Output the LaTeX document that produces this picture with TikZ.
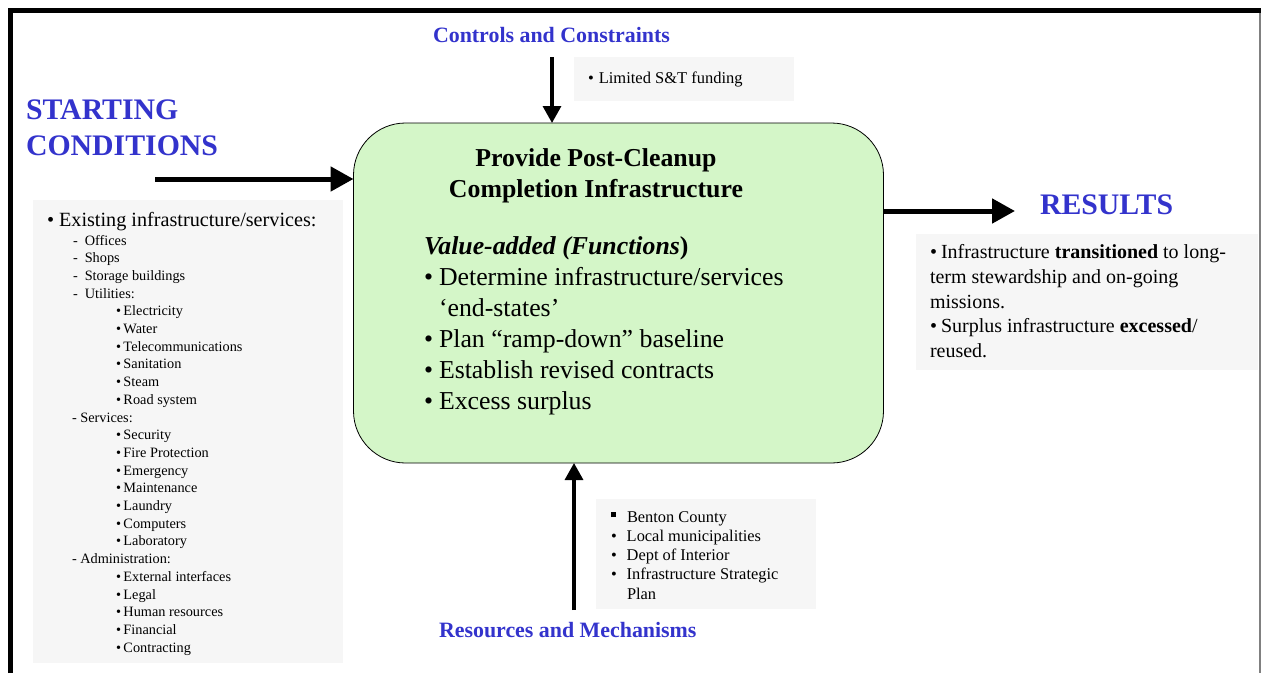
\documentclass[tikz,border=0pt]{standalone}
\usepackage{fontspec}
\setmainfont{Liberation Serif}
\usetikzlibrary{arrows.meta}
\definecolor{headblue}{HTML}{3333CC}
\definecolor{panelgray}{HTML}{F6F6F6}
\definecolor{funcgreen}{HTML}{D4F6C8}
\newcommand\pxsize[1]{\fontsize{#1}{#1}\selectfont}
\begin{document}
\begin{tikzpicture}[x=1pt,y=-1pt,
  every node/.style={inner sep=0pt, outer sep=0pt},
  txt/.style={anchor=base west},
  bighead/.style={anchor=base west, text=headblue, font=\pxsize{29.8}\bfseries},
  subhead/.style={anchor=base west, text=headblue, font=\pxsize{21.9}\bfseries},
  panel/.style={fill=panelgray, draw=none, anchor=north west},
  thickarrow/.style={line width=5pt, -{Triangle[length=23pt,width=24pt]}},
  thinarrow/.style={line width=3.3pt, -{Triangle[length=17pt,width=18pt]}},
  mainfont/.style={font=\pxsize{25.8}},
  mainbold/.style={font=\pxsize{25.8}\bfseries},
]
\useasboundingbox (0,0) rectangle (1261,673);

% page frame
\draw[line width=5pt] (10,673) -- (10,10.5) -- (1261,10.5);
\draw[gray, line width=1.5pt] (1259.8,13) -- (1259.8,673);

% shaded panels
\node[panel, minimum width=310pt, minimum height=463pt] (startpanel) at (33,200) {};
\node[panel, minimum width=220pt, minimum height=44pt] (ctlpanel) at (574,57) {};
\node[panel, minimum width=342pt, minimum height=136pt] (respanel) at (916,234) {};
\node[panel, minimum width=220pt, minimum height=110pt] (mechpanel) at (596,499) {};

% central function box
\node[draw, fill=funcgreen, rounded corners=52pt, line width=0.8pt,
      minimum width=530pt, minimum height=340pt] (main) at (618.5,293) {};

% headings
\node[bighead] (sc1) at (26,119) {STARTING};
\node[bighead] (sc2) at (26,155) {CONDITIONS};
\node[bighead] (res) at (1040,214) {RESULTS};
\node[subhead] (ctlhead) at (433,42) {Controls and Constraints};
\node[subhead] (mechhead) at (439,637) {Resources and Mechanisms};

% connectors
\coordinate (scin) at (155,179);
\coordinate (resout) at (1015,211);
\coordinate (ctl) at (552,57);
\coordinate (mech) at (574,610);
\draw[thickarrow] (scin) -- (scin -| main.west);
\draw[thickarrow] (resout -| main.east) -- (resout);
\draw[thinarrow] (ctl) -- (ctl |- main.north);
\draw[thinarrow] (mech) -- (mech |- main.south);

% function box text
\node[anchor=base, mainbold] (t1) at (596,166) {Provide Post-Cleanup};
\node[anchor=base, mainbold] (t2) at (596,197) {Completion Infrastructure};
\node[txt, mainbold] (va) at (424,254) {\textit{Value-added (Functions}\textup{)}};
\node[txt, mainfont] (f1) at (424,285) {•\hspace{6pt}Determine infrastructure/services};
\node[txt, mainfont] (f1b) at (439,316) {‘end-states’};
\node[txt, mainfont] (f2) at (424,347) {•\hspace{6pt}Plan “ramp-down” baseline};
\node[txt, mainfont] (f3) at (424,378) {•\hspace{6pt}Establish revised contracts};
\node[txt, mainfont] (f4) at (424,409) {•\hspace{6pt}Excess surplus};

% controls
\node[txt, font=\pxsize{16.5}] (ctl1) at (588,83) {•\hspace{5pt}Limited S\&T funding};

% starting conditions list
\node[txt, font=\pxsize{20.2}] (exist) at (47,226) {•\hspace{5pt}Existing infrastructure/services:};
\foreach \i/\t in {0/Offices,1/Shops,2/Storage buildings,3/Utilities:}
  \node[txt, font=\pxsize{14.3}] (sd\i) at (73,245+\i*17.7) {-\hspace{7pt}\t};
\node[txt, font=\pxsize{14.3}] (sd10) at (72,245+10*17.7) {- Services:};
\node[txt, font=\pxsize{14.3}] (sd18) at (72,245+18*17.7) {- Administration:};
\foreach \i/\t in {4/Electricity,5/Water,6/Telecommunications,7/Sanitation,8/Steam,
  9/Road system,11/Security,12/Fire Protection,13/Emergency,14/Maintenance,
  15/Laundry,16/Computers,17/Laboratory,19/External interfaces,20/Legal,
  21/Human resources,22/Financial,23/Contracting}
  \node[txt, font=\pxsize{14.3}] (sb\i) at (116,245+\i*17.7) {•\hspace{2.5pt}\t};

% results list
\node[txt, font=\pxsize{20}] (r1) at (930,258) {•\hspace{4pt}Infrastructure \textbf{transitioned} to long-};
\node[txt, font=\pxsize{20}] (r2) at (930,283) {term stewardship and on-going};
\node[txt, font=\pxsize{20}] (r3) at (930,308) {missions.};
\node[txt, font=\pxsize{20}] (r4) at (930,332) {•\hspace{4pt}Surplus infrastructure \textbf{excessed}/};
\node[txt, font=\pxsize{20}] (r5) at (930,357) {reused.};

% resources and mechanisms list
\node[txt] (m0) at (610.5,522) {\raisebox{5pt}{\rule{5pt}{5pt}}};
\node[txt, font=\pxsize{16.4}] (m1) at (627,522) {Benton County};
\foreach \i/\t in {2/Local municipalities,3/Dept of Interior,4/Infrastructure Strategic}
  \node[txt, font=\pxsize{16.4}] (mb\i) at (611,522+\i*19.25-19.25) {•\hspace{10pt}\t};
\node[txt, font=\pxsize{16.4}] (m5) at (627,599) {Plan};
\end{tikzpicture}
\end{document}
